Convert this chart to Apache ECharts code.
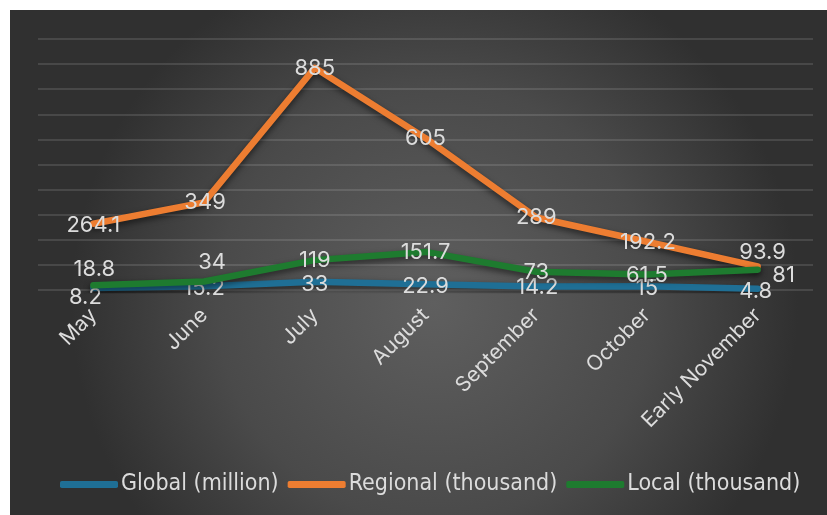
<!DOCTYPE html>
<html>
<head>
<meta charset="utf-8">
<script src="https://cdn.jsdelivr.net/npm/echarts@6/dist/echarts.min.js"></script>
<style>html,body{margin:0;padding:0;background:#fff;}#c{width:827px;height:515px;}</style>
</head>
<body>
<div id="c"></div>
<script>
// ---- data ----
const categories = ["May", "June", "July", "August", "September", "October", "Early November"];
const globalMillion = [8.2, 15.2, 33, 22.9, 14.2, 15, 4.8];
const regionalThousand = [264.1, 349, 885, 605, 289, 192.2, 93.9];
const localThousand = [18.8, 34, 119, 151.7, 73, 61.5, 81];
const seriesNames = ["Global (million)", "Regional (thousand)", "Local (thousand)"];
const yMin = 0, yMax = 1000, yStep = 100;

// ---- styling ----
const colors = ["#1F6F95", "#ED7D31", "#1E7B2F"];
const labelColor = "#dcdcdc";
// label centre shift (px) relative to each point
const labelShift = [
  [[-8,9],[0,2],[0,3],[0,2],[1,1],[0,2],[-2,3]],
  [[0,2],[1,0],[0,1],[0,0],[0,0],[1,1],[5,-14]],
  [[1,-16],[8,-19],[0,0],[0,0],[0,1],[0,1],[26,6]]
];

function buildData(vals, si) {
  return vals.map((v, i) => ({
    value: v,
    label: {
      show: true,
      position: [0.5 + labelShift[si][i][0], 0.5 + labelShift[si][i][1]],
      align: 'center',
      verticalAlign: 'middle'
    }
  }));
}

const chart = echarts.init(document.getElementById('c'), null, { renderer: 'canvas' });
const fontFam = "Inter, 'Noto Sans', sans-serif";
const allVals = [globalMillion, regionalThousand, localThousand];

const option = {
  animation: false,
  backgroundColor: '#ffffff',
  graphic: [{
    type: 'rect', z: -100, silent: true,
    shape: { x: 10, y: 10, width: 817, height: 505 },
    style: {
      fill: new echarts.graphic.RadialGradient(0.52, 0.58, 0.72, [
        { offset: 0, color: '#5f5f5f' },
        { offset: 0.6, color: '#4a4a4a' },
        { offset: 1, color: '#303030' }
      ])
    }
  }],
  grid: { left: 38, right: 14, top: 39, bottom: 225, containLabel: false },
  legend: {
    data: seriesNames.map((n, i) => ({ name: n, itemStyle: { color: colors[i], opacity: 1 } })),
    bottom: 14,
    left: 55,
    icon: 'roundRect',
    itemWidth: 58,
    itemHeight: 7,
    itemGap: 9,
    itemStyle: { opacity: 1 },
    textStyle: { color: labelColor, fontSize: 23, fontFamily: "'Liberation Sans Narrow', 'DejaVu Sans Condensed', sans-serif", padding: [0,0,0,-2] }
  },
  xAxis: {
    type: 'category',
    data: categories,
    boundaryGap: true,
    axisLine: { show: false },
    axisTick: { show: false },
    axisLabel: { rotate: 45, color: labelColor, fontSize: 21, fontFamily: fontFam, margin: 22, interval: 0 }
  },
  yAxis: {
    type: 'value',
    min: yMin, max: yMax, interval: yStep,
    axisLabel: { show: false },
    axisLine: { show: false },
    axisTick: { show: false },
    splitLine: { lineStyle: { color: 'rgba(255,255,255,0.16)', width: 1.5 } }
  },
  series: seriesNames.map((name, si) => ({
    name,
    type: 'line',
    data: buildData(allVals[si], si),
    symbol: 'circle',
    symbolSize: 1,
    showSymbol: true,
    itemStyle: { color: colors[si], opacity: 0 },
    color: colors[si],
    lineStyle: {
      width: 6.5, cap: 'round', join: 'round', color: colors[si], opacity: 1,
      shadowColor: 'rgba(0,0,0,0.55)', shadowBlur: 6, shadowOffsetY: 3
    },
    label: { show: true, color: labelColor, fontSize: 22, fontFamily: fontFam, opacity: 1 },
    labelLayout: { hideOverlap: false },
    z: 2 + si
  }))
};
chart.setOption(option);
</script>
</body>
</html>
